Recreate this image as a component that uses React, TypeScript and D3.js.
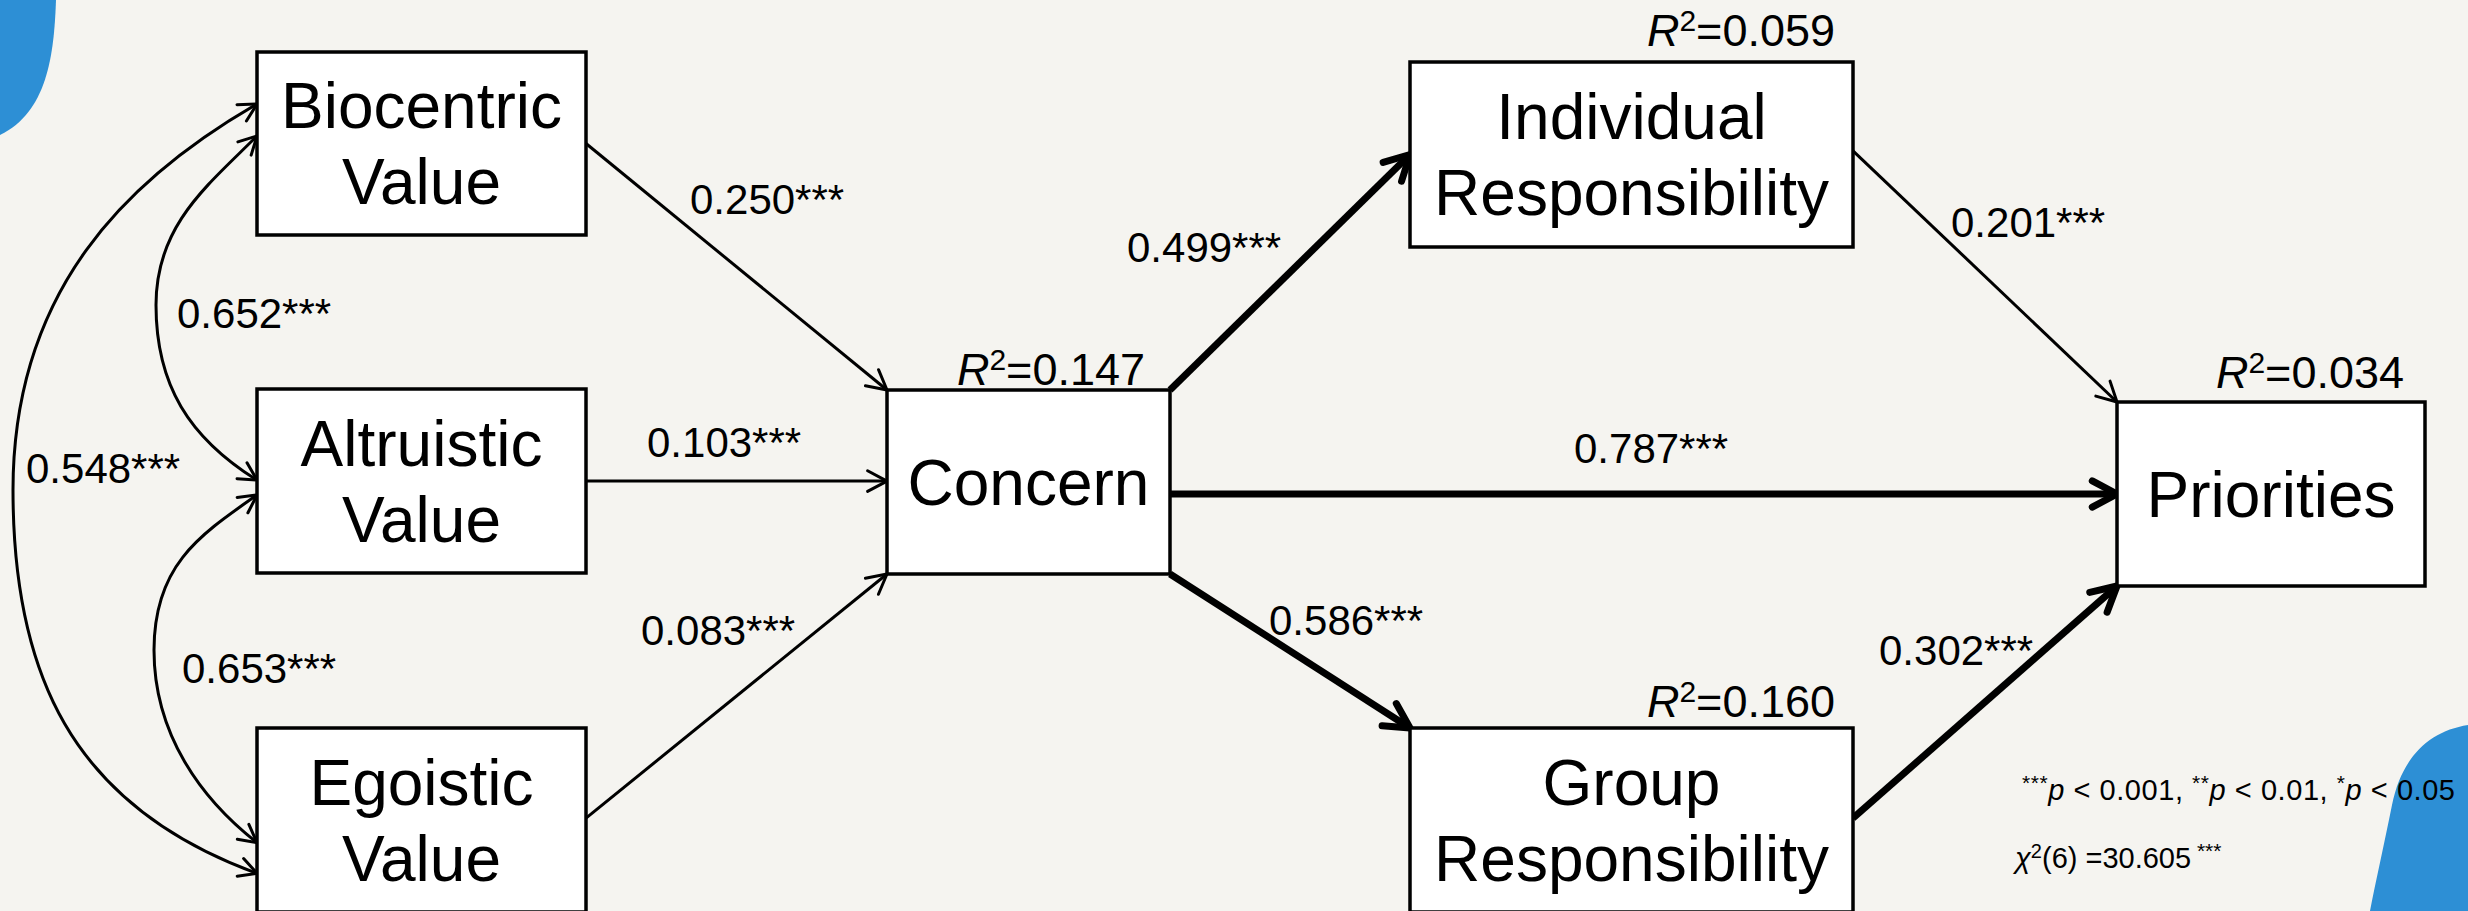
import React, { useEffect } from "react";
import * as d3 from "d3";

const W = 2468;
const H = 911;

// ---------- data ----------
const nodeIds = ["bio", "alt", "ego", "concern", "indiv", "prior", "group"];
const nodeLines = [
  ["Biocentric", "Value"],
  ["Altruistic", "Value"],
  ["Egoistic", "Value"],
  ["Concern"],
  ["Individual", "Responsibility"],
  ["Priorities"],
  ["Group", "Responsibility"],
];
const r2Nodes = ["concern", "indiv", "prior", "group"];
const r2Values = [0.147, 0.059, 0.034, 0.16];

const pathFrom = ["bio", "alt", "ego", "concern", "concern", "concern", "indiv", "group"];
const pathTo = ["concern", "concern", "concern", "indiv", "prior", "group", "prior", "prior"];
const pathCoef = [0.25, 0.103, 0.083, 0.499, 0.787, 0.586, 0.201, 0.302];
const pathSig = ["***", "***", "***", "***", "***", "***", "***", "***"];

const covFrom = ["bio", "alt", "bio"];
const covTo = ["alt", "ego", "ego"];
const covCoef = [0.652, 0.653, 0.548];
const covSig = ["***", "***", "***"];

const pStars = ["***", "**", "*"];
const pCuts = ["0.001", "0.01", "0.05"];
const chiDf = 6;
const chiValue = 30.605;
const chiSig = "***";

// ---------- layout (positions & styles) ----------
const boxes: Record<string, { x: number; y: number; w: number; h: number }> = {
  bio: { x: 257, y: 52, w: 329, h: 183 },
  alt: { x: 257, y: 389, w: 329, h: 184 },
  ego: { x: 257, y: 728, w: 329, h: 184 },
  concern: { x: 887, y: 390, w: 283, h: 184 },
  indiv: { x: 1410, y: 62, w: 443, h: 185 },
  prior: { x: 2117, y: 402, w: 308, h: 184 },
  group: { x: 1410, y: 728, w: 443, h: 184 },
};
const pathAnchors = [
  [[1, 0.5], [0, 0]],
  [[1, 0.5], [0, 0.495]],
  [[1, 0.49], [0, 1]],
  [[1, 0], [0, 0.5]],
  [[1, 0.565], [0, 0.5]],
  [[1, 1], [0, 0]],
  [[1, 0.48], [0, 0]],
  [[1, 0.49], [0, 1]],
];
const pathLabelPos = [
  [690, 214], [647, 457], [641, 645], [1127, 262],
  [1574, 463], [1269, 635], [1951, 237], [1879, 665],
];
const covGeom = [
  { fa: 0.459, fb: 0.495, xm: 156, ym: 305, thA: 45, thB: 32, la: 70, lb: 80, lma: 80, lmb: 80 },
  { fa: 0.576, fb: 0.623, xm: 154, ym: 650, thA: 35, thB: 38, la: 70, lb: 70, lma: 85, lmb: 85 },
  { fa: 0.284, fb: 0.79, xm: 13, ym: 490, thA: 30, thB: 20, la: 150, lb: 200, lma: 200, lmb: 180 },
];
const covLabelPos = [[177, 328], [182, 683], [26, 483]];
const r2Pos = [[1145, 385], [1835, 46], [2404, 388], [1835, 717]];

const FONT = "'Liberation Sans', Arial, Helvetica, sans-serif";
const BG = "#f5f4f0";
const BLUE = "#2d8fd5";

const strokeW = d3.scaleThreshold<number, number>().domain([0.3]).range([3, 7]);
const headLen = d3.scaleThreshold<number, number>().domain([0.3]).range([22, 28]);

function anchor(id: string, f: number[]) {
  const b = boxes[id];
  return [b.x + f[0] * b.w, b.y + f[1] * b.h];
}

function headPath(tip: number[], dir: number[], len: number) {
  const a = (28 * Math.PI) / 180;
  const n = Math.hypot(dir[0], dir[1]);
  const ux = dir[0] / n, uy = dir[1] / n;
  const p = d3.path();
  const r = (s: number) => [
    tip[0] - len * (ux * Math.cos(s * a) - uy * Math.sin(s * a)),
    tip[1] - len * (uy * Math.cos(s * a) + ux * Math.sin(s * a)),
  ];
  const p1 = r(1), p2 = r(-1);
  p.moveTo(p1[0], p1[1]);
  p.lineTo(tip[0], tip[1]);
  p.lineTo(p2[0], p2[1]);
  return p.toString();
}

export default function App() {
  useEffect(() => {
    document.body.style.margin = "0";
    document.body.style.background = BG;
  }, []);

  const rad = (d: number) => (d * Math.PI) / 180;

  return (
    <svg width={W} height={H} style={{ display: "block", position: "absolute", left: 0, top: 0 }} fontFamily={FONT}>
      <style>{`body{margin:0}`}</style>
      <rect x={0} y={0} width={W} height={H} fill={BG} />
      {/* decorative blobs */}
      <path d="M0,0 H56 C54,56 47,112 0,135 Z" fill={BLUE} />
      <path d="M2468,725 C2430,731 2402,756 2392,805 C2384,845 2376,880 2370,911 L2468,911 Z" fill={BLUE} />

      {/* covariance curves */}
      {covFrom.map((a, i) => {
        const g = covGeom[i];
        const A = anchor(a, [0, g.fa]);
        const B = anchor(covTo[i], [0, g.fb]);
        const dA = [-Math.cos(rad(g.thA)), Math.sin(rad(g.thA))];
        const dB = [-Math.cos(rad(g.thB)), -Math.sin(rad(g.thB))];
        const p = d3.path();
        p.moveTo(A[0], A[1]);
        p.bezierCurveTo(A[0] + g.la * dA[0], A[1] + g.la * dA[1], g.xm, g.ym - g.lma, g.xm, g.ym);
        p.bezierCurveTo(g.xm, g.ym + g.lmb, B[0] + g.lb * dB[0], B[1] + g.lb * dB[1], B[0], B[1]);
        return (
          <g key={"cov" + i} stroke="#000" fill="none" strokeWidth={3} strokeLinecap="round" strokeLinejoin="round">
            <path d={p.toString()} />
            <path d={headPath(A, [-dA[0], -dA[1]], 20)} />
            <path d={headPath(B, [-dB[0], -dB[1]], 20)} />
          </g>
        );
      })}
      {covCoef.map((c, i) => (
        <text key={"covl" + i} x={covLabelPos[i][0]} y={covLabelPos[i][1]} fontSize={42}>
          {c.toFixed(3) + covSig[i]}
        </text>
      ))}

      {/* path arrows */}
      {pathFrom.map((f, i) => {
        const s = anchor(f, pathAnchors[i][0]);
        const t = anchor(pathTo[i], pathAnchors[i][1]);
        const line = d3.line()([s as [number, number], t as [number, number]]) || "";
        const sw = strokeW(pathCoef[i]);
        return (
          <g key={"p" + i} stroke="#000" fill="none" strokeWidth={sw} strokeLinecap="round" strokeLinejoin="round">
            <path d={line} strokeLinecap="butt" />
            <path d={headPath(t, [t[0] - s[0], t[1] - s[1]], headLen(pathCoef[i]))} />
          </g>
        );
      })}
      {pathCoef.map((c, i) => (
        <text key={"pl" + i} x={pathLabelPos[i][0]} y={pathLabelPos[i][1]} fontSize={42}>
          {c.toFixed(3) + pathSig[i]}
        </text>
      ))}

      {/* boxes */}
      {nodeIds.map((id, i) => {
        const b = boxes[id];
        const lines = nodeLines[i];
        const fs = 64;
        const lh = 76;
        const cy = b.y + b.h / 2;
        const y0 = cy - ((lines.length - 1) * lh) / 2 + fs * 0.716 / 2;
        return (
          <g key={id}>
            <rect x={b.x} y={b.y} width={b.w} height={b.h} fill="#fff" stroke="#000" strokeWidth={3.5} />
            <text x={b.x + b.w / 2} textAnchor="middle" fontSize={fs}>
              {lines.map((l, j) => (
                <tspan key={j} x={b.x + b.w / 2} y={y0 + j * lh}>
                  {l}
                </tspan>
              ))}
            </text>
          </g>
        );
      })}

      {/* R² labels */}
      {r2Nodes.map((id, i) => (
        <text key={"r2" + i} x={r2Pos[i][0]} y={r2Pos[i][1]} fontSize={45} textAnchor="end">
          <tspan fontStyle="italic">R</tspan>
          <tspan fontSize={30} dy={-15}>2</tspan>
          <tspan dy={15}>{"=" + r2Values[i].toFixed(3)}</tspan>
        </text>
      ))}

      {/* footnotes */}
      <text x={2022} y={800} fontSize={29} textLength={433} lengthAdjust="spacing">
        {pStars.map((s, i) => (
          <React.Fragment key={i}>
            <tspan fontSize={21} dy={-10}>{s}</tspan>
            <tspan dy={10} fontStyle="italic">p</tspan>
            <tspan>{" < " + pCuts[i] + (i < pStars.length - 1 ? ",  " : "")}</tspan>
          </React.Fragment>
        ))}
      </text>
      <text x={2015} y={868} fontSize={29}>
        <tspan fontStyle="italic">χ</tspan>
        <tspan fontSize={20} dy={-10}>2</tspan>
        <tspan dy={10}>{"(" + chiDf + ") =" + chiValue.toFixed(3)}</tspan>
        <tspan fontSize={21} dy={-10}>{" " + chiSig}</tspan>
      </text>
    </svg>
  );
}
